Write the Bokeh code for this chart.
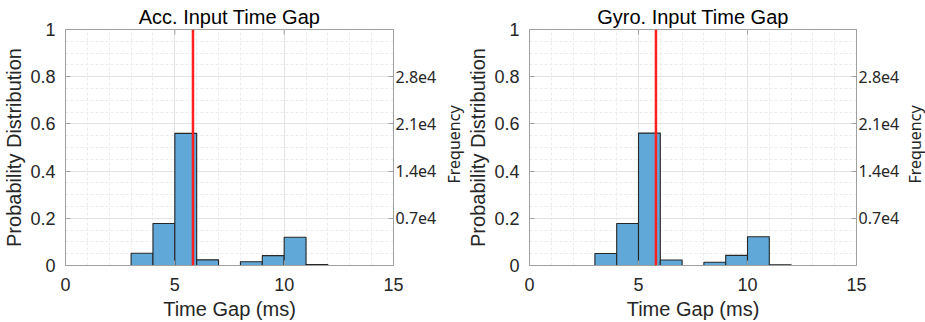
from bokeh.plotting import figure
from bokeh.layouts import row
from bokeh.models import LinearAxis, Range1d, FixedTicker, Span, Title
from bokeh.embed import file_html
from bokeh.resources import INLINE

# ---- data ----
bin_edges = list(range(16))
prob_acc = [0, 0, 0, 0.052, 0.178, 0.560, 0.024, 0, 0.016, 0.042, 0.120, 0.004, 0, 0, 0]
prob_gyro = [0, 0, 0, 0.051, 0.178, 0.561, 0.023, 0, 0.014, 0.043, 0.122, 0.003, 0, 0, 0]
mean_acc = 5.83
mean_gyro = 5.80
titles = ["Acc. Input Time Gap", "Gyro. Input Time Gap"]
x_ticks = [0, 5, 10, 15]
x_minor = list(range(16))
y_ticks = [0, 0.2, 0.4, 0.6, 0.8, 1.0]
y_labels = ["0", "0.2", "0.4", "0.6", "0.8", "1"]
y_minor = [i * 0.05 for i in range(21)]
freq_max = 35000
freq_ticks = [7000, 14000, 21000, 28000]
freq_labels = ["0.7e4", "1.4e4", "2.1e4", "2.8e4"]
freq_title = "Frequency"

MAIN_FONT = "Liberation Sans"
SIDE_FONT = "Noto Sans"
TXT = "#262626"
FRAME = "#a0a0a0"
H = 322
FRAME_H = 236
TICK_PX = 5


def make(title, probs, mean, fw, mb_left, mb_right):
    p = figure(frame_width=fw, frame_height=FRAME_H,
               x_range=Range1d(x_ticks[0], x_ticks[-1]), y_range=Range1d(y_ticks[0], y_ticks[-1]),
               output_backend="svg", toolbar_location=None,
               min_border_left=mb_left, min_border_right=mb_right,
               min_border_top=29, min_border_bottom=57)
    p.outline_line_color = FRAME
    p.background_fill_color = "white"
    p.title.text = title
    p.title.align = "center"
    p.title.text_font = MAIN_FONT
    p.title.text_font_size = "20px"
    p.title.text_font_style = "normal"
    p.title.text_color = "black"
    p.title.standoff = 3

    xt = FixedTicker(ticks=x_ticks, minor_ticks=x_minor)
    yt = FixedTicker(ticks=y_ticks, minor_ticks=y_minor)

    p.quad(left=bin_edges[:-1], right=bin_edges[1:], bottom=0, top=probs,
           fill_color="#5FA8D8", line_color=TXT, line_width=1.1)
    p.add_layout(Span(location=mean, dimension="height", line_color="#FF2020", line_width=2.5))

    # inward tick marks along the top edge of the box, at the x ticks
    top = y_ticks[-1]
    tick_len = (y_ticks[-1] - y_ticks[0]) * TICK_PX / FRAME_H
    p.segment(x0=x_ticks, y0=[top] * len(x_ticks), x1=x_ticks,
              y1=[top - tick_len] * len(x_ticks), line_color=FRAME, line_width=1)

    p.xaxis.ticker = xt
    p.yaxis.ticker = yt
    p.yaxis.major_label_overrides = dict(zip(y_ticks, y_labels))
    for g in (p.xgrid, p.ygrid):
        g.grid_line_color = "#e3e3e3"
        g.grid_line_width = 1
        g.minor_grid_line_color = "#ececec"
        g.minor_grid_line_dash = "3 2"
    p.xgrid.ticker = xt
    p.ygrid.ticker = yt

    for ax in (p.xaxis[0], p.yaxis[0]):
        ax.major_tick_in = TICK_PX
        ax.major_tick_out = 0
        ax.minor_tick_line_color = None
        ax.major_tick_line_color = FRAME
        ax.axis_line_color = FRAME
        ax.major_label_text_font = MAIN_FONT
        ax.major_label_text_font_size = "18px"
        ax.major_label_text_color = TXT
        ax.axis_label_text_font = MAIN_FONT
        ax.axis_label_text_font_size = "20px"
        ax.axis_label_text_font_style = "normal"
        ax.axis_label_text_color = TXT
    p.xaxis.axis_label = "Time Gap (ms)"
    p.xaxis.major_label_standoff = 8
    p.xaxis.axis_label_standoff = 4
    p.yaxis.axis_label = "Probability Distribution"
    p.yaxis.major_label_standoff = 6
    p.yaxis.axis_label_standoff = 2

    p.extra_y_ranges = {"freq": Range1d(0, freq_max)}
    rax = LinearAxis(y_range_name="freq", ticker=FixedTicker(ticks=freq_ticks),
                     major_label_overrides=dict(zip(freq_ticks, freq_labels)))
    rax.major_tick_in = TICK_PX
    rax.major_tick_out = 0
    rax.minor_tick_line_color = None
    rax.major_tick_line_color = FRAME
    rax.axis_line_color = FRAME
    rax.major_label_text_font = SIDE_FONT
    rax.major_label_text_font_size = "16px"
    rax.major_label_text_color = TXT
    rax.major_label_standoff = 2
    p.add_layout(rax, "right")
    return p


def side_title(text, width):
    # narrow strip carrying the right-hand axis title, reading bottom-to-top
    s = figure(width=width, height=H, output_backend="svg", toolbar_location=None,
               x_axis_location=None, y_axis_location=None,
               min_border_left=0, min_border_right=0, min_border_top=23, min_border_bottom=63)
    s.grid.visible = False
    s.outline_line_color = None
    s.add_layout(Title(text=text, align="center", text_font=SIDE_FONT, text_font_size="16px",
                       text_font_style="normal", text_color=TXT, standoff=0), "left")
    return s


p1 = make(titles[0], prob_acc, mean_acc, 328, 56, 48)
s1 = side_title(freq_title, 23)
p2 = make(titles[1], prob_gyro, mean_gyro, 327, 65, 45)
s2 = side_title(freq_title, 23)
layout = row(p1, s1, p2, s2, spacing=0)

open("out.html", "w").write(file_html(layout, INLINE))
